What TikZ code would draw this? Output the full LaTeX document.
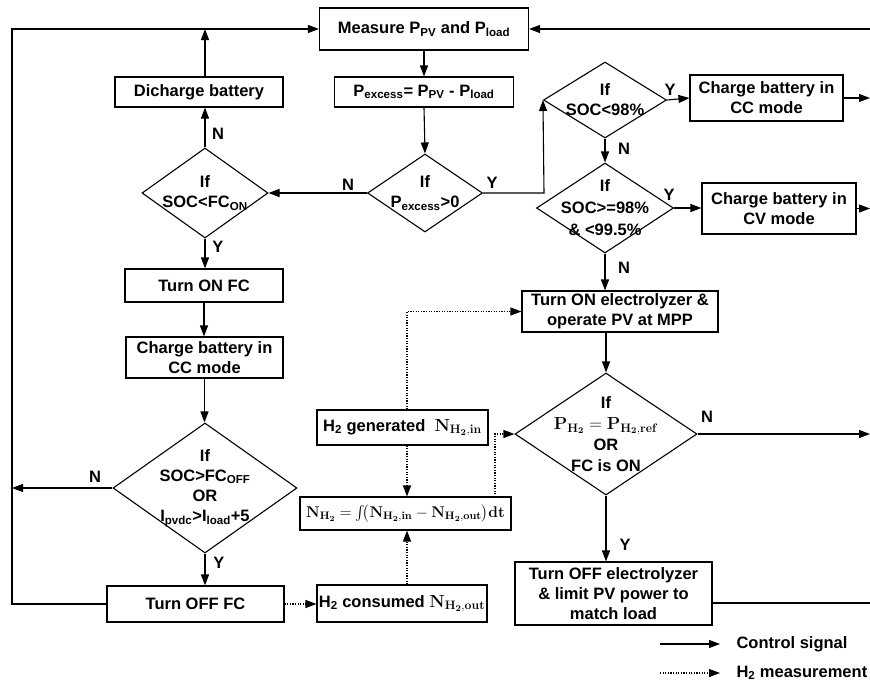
\RequirePackage{fix-cm}
\documentclass[tikz,border=0pt]{standalone}
\usepackage{exscale}
\usepackage[no-math]{fontspec}
\setmainfont{Liberation Sans}
\usetikzlibrary{shapes.geometric,arrows.meta,calc}
\newcommand{\bmath}[1]{\textnormal{\fontsize{17.5}{20}\selectfont$\mathbf{#1}$}}
\newcommand{\smath}[1]{\textnormal{\fontsize{15.5}{20}\selectfont$\mathbf{#1}$}}
\tikzset{
  base/.style={font=\fontsize{16.5}{20}\selectfont\bfseries, align=center},
  box/.style={base, draw, line width=1.1pt, inner sep=0pt},
  dia/.style={draw, diamond, line width=1.1pt, inner sep=0pt},
  lbl/.style={base},
  ctl/.style={line width=1.1pt, -{Triangle[length=11pt,width=8pt]}},
  ctlplain/.style={line width=1.1pt},
  meas/.style={line width=1.1pt, dash pattern=on 1.2pt off 1.4pt, -{Triangle[length=11pt,width=8pt]}},
}
\begin{document}
\begin{tikzpicture}[x=1pt,y=-1pt]
\useasboundingbox (0,0) rectangle (870,681);
% boxes
\node[box, minimum width=209, minimum height=42] (meas) at (424,29) {Measure P\textsubscript{PV} and P\textsubscript{load}};
\node[box, minimum width=179, minimum height=30] (pex) at (424,92) {P\textsubscript{excess}= P\textsubscript{PV} - P\textsubscript{load}};
\node[box, minimum width=168, minimum height=30] (dich) at (199,92) {Dicharge battery};
\node[dia, minimum width=115, minimum height=78] (d1) at (425,193) {};
\node[base] at (d1) {If\\P\textsubscript{excess}>0};
\node[dia, minimum width=126, minimum height=90] (d2) at (205,193) {};
\node[base] at (d2) {If\\SOC<FC\textsubscript{ON}};
\node[dia, minimum width=123, minimum height=76] (d3) at (605,100) {};
\node[base] at (d3) {If\\SOC<98\%};
\node[dia, minimum width=137, minimum height=90] (d4) at (605,208) {};
\node[base, font=\fontsize{16.5}{22}\selectfont\bfseries] at (d4) {If\\SOC>=98\%\\\& <99.5\%};
\node[box, minimum width=153, minimum height=46] (ccR) at (766.5,98) {Charge battery in\\CC mode};
\node[box, minimum width=154, minimum height=51] (cvR) at (779,208.5) {Charge battery in\\CV mode};
\node[box, minimum width=196, minimum height=41] (tonE) at (620,311.5) {Turn ON electrolyzer \&\\operate PV at MPP};
\node[dia, minimum width=182, minimum height=122] (d5) at (606,434) {};
\node[base, font=\fontsize{16.5}{21}\selectfont\bfseries] at (d5) {If\\\bmath{P_{H_2} = P_{H_2,ref}}\\OR\\FC is ON};
\node[box, minimum width=197, minimum height=63] (toffE) at (613.5,593.5) {Turn OFF electrolyzer\\\& limit PV power to\\match load};
\node[box, minimum width=158, minimum height=33] (tonFC) at (204,285.5) {Turn ON FC};
\node[box, minimum width=157, minimum height=41] (ccL) at (204.5,357.5) {Charge battery in\\CC mode};
\node[dia, minimum width=184, minimum height=130] (d6) at (205,488) {};
\node[base] at (d6) {If\\SOC>FC\textsubscript{OFF}\\OR\\I\textsubscript{pvdc}>I\textsubscript{load}+5};
\node[box, minimum width=177, minimum height=36] (toffFC) at (195.5,604) {Turn OFF FC};
\node[box, minimum width=170, minimum height=37] (h2c) at (402,603.5) {H\textsubscript{2} consumed \bmath{N_{H_2,out}}};
\node[box, minimum width=211, minimum height=33] (int) at (405.5,513.5) {\smath{N_{H_2} = {\textstyle\int}\!\big(N_{H_2,in} - N_{H_2,out}\big)dt}};
\node[box, minimum width=171, minimum height=35] (h2g) at (402.5,427.5) {H\textsubscript{2} generated \ \bmath{N_{H_2,in}}};
% edge coordinates
\coordinate (L) at (12,29);
\coordinate (Lbot) at (12,604);
\coordinate (Ld6) at (12,488);
\coordinate (Rtop) at (870,29);
\coordinate (Rcc) at (870,98);
\coordinate (Rcv) at (870,208.5);
\coordinate (Rd5) at (870,434);
\coordinate (Re) at (870,603);
\coordinate (dichup) at (205,29);
\coordinate (yturn) at (544,193);
\coordinate (intout) at (495,497);
% control connectors
\draw[ctl] (meas.south) -- (pex.north);
\draw[ctl] (pex.south) -- (d1.north);
\draw[ctl] (d1.west) -- (d2.east);
\draw[ctl] (d1.east) -- (yturn) -- (d3.west);
\draw[ctl] (d3.east) -- (ccR.west);
\draw[ctl] (ccR.east) -- (Rcc);
\draw[ctl] (d3.south) -- (d4.north);
\draw[ctl] (d4.east) -- (d4.east -| cvR.west);
\draw[ctl] (cvR.east) -- (Rcv);
\draw[ctl] (d4.south) -- (d4.south |- tonE.north);
\draw[ctl] (tonE.south -| d5.north) -- (d5.north);
\draw[ctl] (d5.east) -- (Rd5);
\draw[ctl] (d5.south) -- (d5.south |- toffE.north);
\draw[ctlplain] (toffE.east |- Re) -- (Re);
\draw[ctl] (Rtop) -- (meas.east);
\draw[ctl] (d2.north) -- (d2.north |- dich.south);
\draw[ctl] (d2.north |- dich.north) -- (dichup);
\draw[ctl] (toffFC.west) -- (Lbot) -- (L) -- (meas.west);
\draw[ctl] (d2.south) -- (d2.south |- tonFC.north);
\draw[ctl] (tonFC.south) -- (tonFC.south |- ccL.north);
\draw[ctl] (ccL.south) -- (ccL.south |- d6.north);
\draw[ctl] (d6.west) -- (Ld6);
\draw[ctl] (d6.south) -- (d6.south |- toffFC.north);
% measurement connectors
\draw[meas] (toffFC.east) -- (toffFC.east -| h2c.west);
\draw[meas] (h2c.north -| 407,0) -- (int.south -| 407,0);
\draw[meas] (h2g.south -| 407,0) -- (int.north -| 407,0);
\draw[meas] (h2g.north -| 407,0) |- (tonE.west);
\draw[meas] (intout) |- (d5.west);
% labels
\node[lbl] at (348,185) {N};
\node[lbl] at (492,183) {Y};
\node[lbl] at (218,134) {N};
\node[lbl] at (218,247) {Y};
\node[lbl] at (670,90) {Y};
\node[lbl] at (624,149) {N};
\node[lbl] at (669,195) {Y};
\node[lbl] at (624,268) {N};
\node[lbl] at (707,417) {N};
\node[lbl] at (625,545) {Y};
\node[lbl] at (95,477) {N};
\node[lbl] at (219,563) {Y};
% legend
\coordinate (lg1a) at (660,644);
\coordinate (lg1b) at (720,644);
\coordinate (lg2a) at (660,673);
\coordinate (lg2b) at (720,673);
\draw[ctl] (lg1a) -- (lg1b);
\draw[meas] (lg2a) -- (lg2b);
\node[lbl, anchor=west] (lgt1) at (733,644) {Control signal};
\node[lbl, anchor=west] (lgt2) at (733,673) {H\textsubscript{2} measurement};
\end{tikzpicture}
\end{document}
